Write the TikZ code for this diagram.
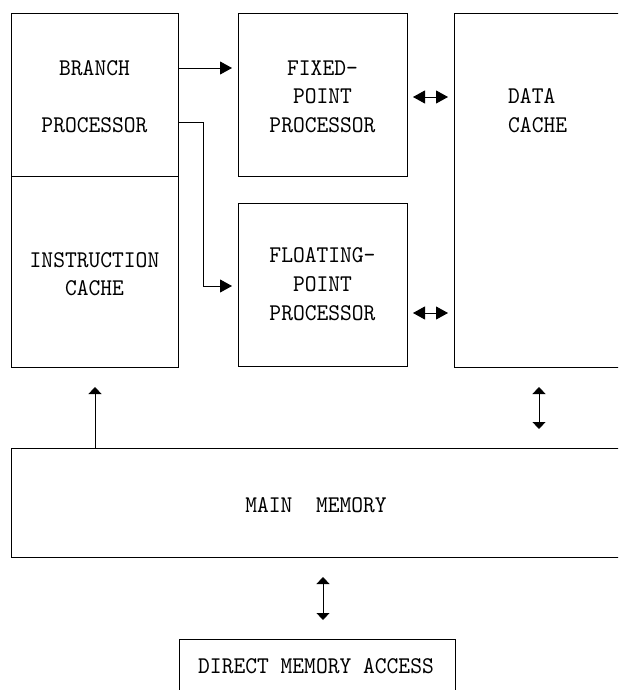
\documentclass[tikz,border=0pt]{standalone}
\usepackage{fontspec}
\newfontfamily\boxfont{lmmono10-regular.otf}[FakeStretch=0.935]
\usetikzlibrary{arrows.meta}
\tikzset{
  box/.style={draw, line width=0.9pt, inner sep=0pt, outer sep=0pt},
  txt/.style={anchor=base, inner sep=0pt, font=\boxfont\fontsize{24}{28}\selectfont},
  hhead/.tip={Triangle[length=12pt,width=13pt]},
  vhead/.tip={Triangle[length=7pt,width=13pt]},
  harrow/.style={line width=0.9pt, -hhead, shorten >=6pt},
  hboth/.style={line width=0.9pt, hhead-hhead, shorten >=6pt, shorten <=6pt},
  varrow/.style={line width=0.8pt, -vhead},
  vboth/.style={line width=0.8pt, vhead-vhead}
}
\begin{document}
\begin{tikzpicture}
\clip (0,0) rectangle (618pt,-690pt);

% processor and cache boxes
\node[box, minimum width=167pt, minimum height=163pt] (branch) at (94.5pt,-94.5pt) {};
\node[box, minimum width=167pt, minimum height=191pt] (instr) at (94.5pt,-271.5pt) {};
\node[box, minimum width=169pt, minimum height=163pt] (fixed) at (322.5pt,-94.5pt) {};
\node[box, minimum width=169pt, minimum height=163pt] (float) at (322.5pt,-284.5pt) {};
\node[box, minimum width=170pt, minimum height=354pt] (data) at (539pt,-190pt) {};
\node[box, minimum width=613pt, minimum height=109pt] (main) at (317.5pt,-502.5pt) {};
\node[box, minimum width=276pt, minimum height=61pt] (dma) at (317pt,-669.5pt) {};

% box labels
\node[txt] (branch1) at (94.5pt,-76pt) {BRANCH};
\node[txt] (branch2) at (94.5pt,-132pt) {PROCESSOR};
\node[txt] (instr1) at (94.5pt,-267pt) {INSTRUCTION};
\node[txt] (instr2) at (94.5pt,-295pt) {CACHE};
\node[txt] (fixed1) at (322.5pt,-76pt) {FIXED-};
\node[txt] (fixed2) at (322.5pt,-104pt) {POINT};
\node[txt] (fixed3) at (322.5pt,-132pt) {PROCESSOR};
\node[txt] (float1) at (322.5pt,-262pt) {FLOATING-};
\node[txt] (float2) at (322.5pt,-291pt) {POINT};
\node[txt] (float3) at (322.5pt,-320pt) {PROCESSOR};
\node[txt, anchor=base west] (data1) at (508pt,-104pt) {DATA};
\node[txt, anchor=base west] (data2) at (508pt,-132pt) {CACHE};
\node[txt] (mainlbl) at (316pt,-512pt) {MAIN\ \ MEMORY};
\node[txt] (dmalbl) at (316pt,-673pt) {DIRECT MEMORY ACCESS};

% connectors
\draw[harrow] (branch.east |- 0,-68pt) -- (fixed.west |- 0,-68pt);
\draw[harrow] (branch.east |- 0,-122pt) -- (203pt,-122pt) |- (float.west |- 0,-286pt);
\draw[hboth] (fixed.east |- 0,-97pt) -- (data.west |- 0,-97pt);
\draw[hboth] (float.east |- 0,-313pt) -- (data.west |- 0,-313pt);
\draw[vboth, shorten <=20pt, shorten >=19pt] (data.south) -- (data.south |- main.north);
\draw[varrow, shorten >=20pt] (main.north -| 95pt,0) -- (instr.south -| 95pt,0);
\draw[vboth, shorten <=20pt, shorten >=19pt] (main.south -| 323pt,0) -- (dma.north -| 323pt,0);
\end{tikzpicture}
\end{document}
